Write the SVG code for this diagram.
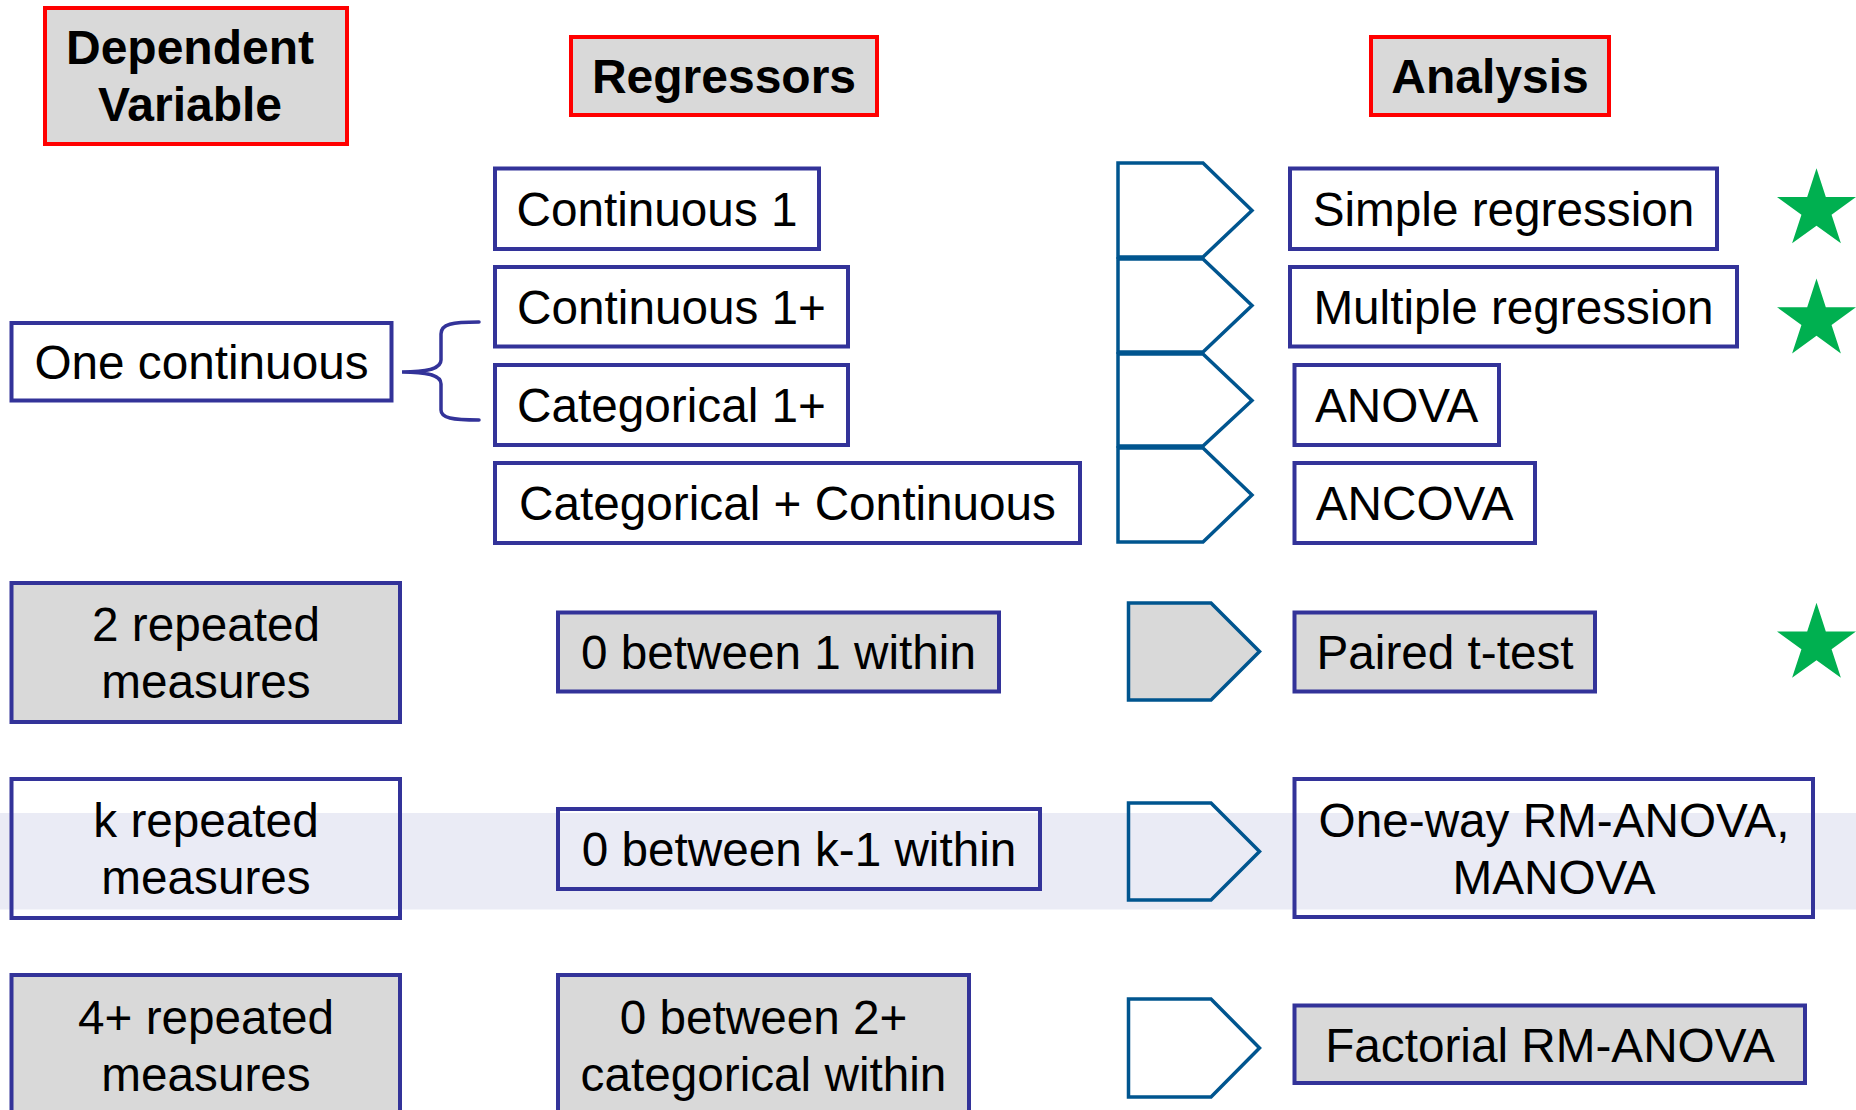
<svg xmlns="http://www.w3.org/2000/svg" width="1856" height="1110" viewBox="0 0 1856 1110">
<defs>
<style>
text{font-family:"Liberation Sans",Arial,sans-serif;fill:#000;text-anchor:middle}
.t{font-size:47.7px}
.h{font-size:48px;font-weight:bold}
.hdr{fill:#d9d9d9;stroke:#ff0000;stroke-width:4}
.bx{fill:#fff;stroke:#333399;stroke-width:4}
.bg{fill:#d9d9d9;stroke:#333399;stroke-width:4}
.bn{fill:none;stroke:#333399;stroke-width:4}
.pe{fill:none;stroke:#00558f;stroke-width:3.5;stroke-linejoin:miter}
.pg{fill:#d9d9d9;stroke:#00558f;stroke-width:3.5}
.pw{fill:#fff;stroke:#00558f;stroke-width:3.5}
.br{fill:none;stroke:#333399;stroke-width:3.5;stroke-linecap:round}
.star{fill:#00b050}
</style>
<path id="star" d="M0,-41.5 L9.32,-12.82 L39.47,-12.82 L15.07,4.9 L24.39,33.57 L0,15.85 L-24.39,33.57 L-15.07,4.9 L-39.47,-12.82 L-9.32,-12.82 Z"/>
</defs>
<rect x="0" y="813" width="1856" height="96.5" fill="#eaebf5"/>

<g id="hdr-dv"><rect class="hdr" x="45" y="8" width="302" height="136"/><text class="h" x="190" y="64">Dependent</text><text class="h" x="190" y="121">Variable</text></g>
<g id="hdr-reg"><rect class="hdr" x="571" y="37" width="306" height="78"/><text class="h" x="724" y="93">Regressors</text></g>
<g id="hdr-ana"><rect class="hdr" x="1371" y="37" width="238" height="78"/><text class="h" x="1490" y="93">Analysis</text></g>

<g id="connectors">
<path class="br" d="M479,322 C452,322 441,324 441,334 L441,360 C441,368 430,372 402,372 C430,372 441,376 441,384 L441,410 C441,418 452,420 479,420"/>
<polygon class="pe" points="1118,163 1203,163 1252,210.5 1203,257 1118,257"/>
<polygon class="pe" points="1118,259 1203,259 1252,305.5 1203,352 1118,352"/>
<polygon class="pe" points="1118,354 1203,354 1252,400.5 1203,446 1118,446"/>
<polygon class="pe" points="1118,448 1203,448 1252,495 1203,542 1118,542"/>
<polygon class="pg" points="1128.5,603 1211,603 1259.5,651.5 1211,700 1128.5,700"/>
<polygon class="pe" points="1128.5,803 1211,803 1259.5,851.5 1211,900 1128.5,900"/>
<polygon class="pw" points="1128.5,999 1211,999 1259.5,1048 1211,1097 1128.5,1097"/>
</g>

<g id="n-onecont"><rect class="bx" x="11.5" y="323" width="380" height="77.5"/><text class="t" x="201.5" y="379">One continuous</text></g>
<g id="n-cont1"><rect class="bx" x="495" y="168.5" width="324" height="80.5"/><text class="t" x="657" y="226">Continuous 1</text></g>
<g id="n-cont1p"><rect class="bx" x="495" y="267" width="353" height="79.5"/><text class="t" x="671.5" y="324">Continuous 1+</text></g>
<g id="n-cat1p"><rect class="bx" x="495" y="365" width="353" height="80"/><text class="t" x="671.5" y="422">Categorical 1+</text></g>
<g id="n-catcont"><rect class="bx" x="495" y="463" width="585" height="80"/><text class="t" x="787.5" y="520">Categorical + Continuous</text></g>

<g id="n-simple"><rect class="bx" x="1290" y="168.5" width="427" height="80.5"/><text class="t" x="1503.5" y="226">Simple regression</text></g>
<g id="n-multiple"><rect class="bx" x="1290" y="267" width="447" height="79.5"/><text class="t" x="1513.5" y="324">Multiple regression</text></g>
<g id="n-anova"><rect class="bx" x="1294.5" y="365" width="204.5" height="80"/><text class="t" x="1396.7" y="422">ANOVA</text></g>
<g id="n-ancova"><rect class="bx" x="1294.5" y="463" width="240.5" height="80"/><text class="t" x="1414.7" y="520">ANCOVA</text></g>

<g id="n-2rep"><rect class="bg" x="11.5" y="583" width="388.5" height="139"/><text class="t" x="206" y="641">2 repeated</text><text class="t" x="206" y="698">measures</text></g>
<g id="n-krep"><rect class="bn" x="11.5" y="779" width="388.5" height="139"/><text class="t" x="206" y="837">k repeated</text><text class="t" x="206" y="894">measures</text></g>
<g id="n-4rep"><rect class="bg" x="11.5" y="975" width="388.5" height="139"/><text class="t" x="206" y="1034">4+ repeated</text><text class="t" x="206" y="1091">measures</text></g>

<g id="n-0b1w"><rect class="bg" x="558" y="612.5" width="441" height="79"/><text class="t" x="778.5" y="669">0 between 1 within</text></g>
<g id="n-0bkw"><rect class="bn" x="558" y="809" width="482" height="80"/><text class="t" x="799" y="866">0 between k-1 within</text></g>
<g id="n-0b2w"><rect class="bg" x="558" y="975" width="411" height="139"/><text class="t" x="763.5" y="1034">0 between 2+</text><text class="t" x="763.5" y="1091">categorical within</text></g>

<g id="n-paired"><rect class="bg" x="1294.5" y="612.5" width="300.5" height="79"/><text class="t" x="1445" y="669">Paired t-test</text></g>
<g id="n-oneway"><rect class="bn" x="1294.5" y="779" width="518.5" height="138"/><text class="t" x="1554" y="837">One-way RM-ANOVA,</text><text class="t" x="1554" y="894">MANOVA</text></g>
<g id="n-factorial"><rect class="bg" x="1294.5" y="1005.5" width="510.5" height="77.5"/><text class="t" x="1550" y="1062">Factorial RM-ANOVA</text></g>

<g id="stars">
<use href="#star" class="star" x="1816.5" y="209.8"/>
<use href="#star" class="star" x="1816.5" y="320"/>
<use href="#star" class="star" x="1816.5" y="644.3"/>
</g>
</svg>
